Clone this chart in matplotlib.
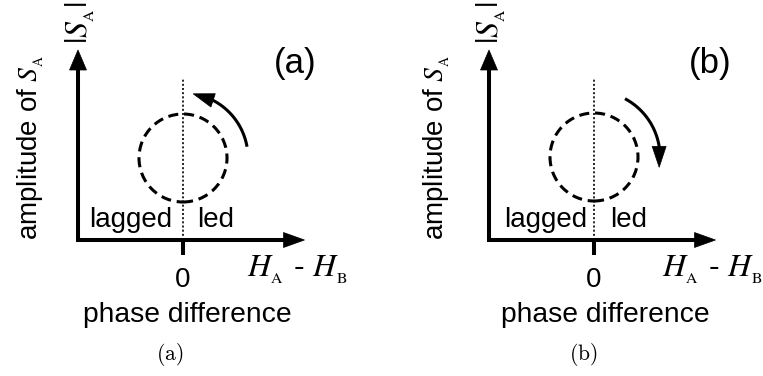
import numpy as np
import matplotlib
matplotlib.use("Agg")
import matplotlib.pyplot as plt
from matplotlib.patches import Circle, Polygon

plt.rcParams['font.family'] = ['Liberation Sans', 'DejaVu Sans']
plt.rcParams['mathtext.fontset'] = 'stix'

# two panels: counter-clockwise (a) and clockwise (b) orbit
panels = ['a', 'b']
directions = [1, -1]            # +1 ccw, -1 cw
arc_start = [10, 62]            # degrees, around the orbit centre
arc_end = [81, -9]
orbit_y = [82, 83]              # orbit centre height above the phase axis
orbit_r = 44
arc_r = [65, 66]
region_labels = ['lagged', 'led']
zero_label = '0'
x_name = r'$H_{{}_\mathrm{A}}$ - $H_{{}_\mathrm{B}}$'
x_desc = 'phase difference'
y_desc = r'amplitude of $S_{{}_\mathrm{A}}$'
y_name = r'$|S_{{}_\mathrm{A}}|$'

# layout, one entry per panel (pixels relative to the zero tick / phase axis)
panel_left = [0, 382]
zero_px = [183, 212]
lab_dx = [0, 4]
ylab_x = [-145, -150]
phrase_x = [4.5, 11.5]

W, H = 763, 376
fig = plt.figure(figsize=(W / 100, H / 100), dpi=100)

AX_LW = 2.9
yaxis_x = -105
y_top = 190
x_right = 121.5
HEAD_L = 20


def arrow_head(ax, tip, d, length, width):
    d = np.asarray(d, float)
    d = d / np.hypot(*d)
    n = np.array([-d[1], d[0]])
    tip = np.asarray(tip, float)
    base = tip - length * d
    pts = [tip, base + n * width / 2, base - n * width / 2]
    ax.add_patch(Polygon(pts, closed=True, fc='black', ec='black', lw=0.5))


for i, p in enumerate(panels):
    ax = fig.add_axes([panel_left[i] / W, 0, 381 / W, 1])
    ax.set_xlim(-zero_px[i], 381 - zero_px[i])
    ax.set_ylim(-136, 240)
    ax.axis('off')

    # axes frame drawn as an L with arrow tips
    ax.plot([yaxis_x, yaxis_x, x_right - HEAD_L + 2],
            [y_top - HEAD_L + 2, 0, 0], color='black', lw=AX_LW,
            solid_joinstyle='miter', solid_capstyle='butt')
    arrow_head(ax, (yaxis_x, y_top), (0, 1), HEAD_L, 17)
    arrow_head(ax, (x_right, 0), (1, 0), HEAD_L + 1, 15)

    # zero tick and dotted zero line
    ax.plot([0, 0], [0, -15], color='black', lw=AX_LW, solid_capstyle='butt')
    ax.plot([0, 0], [0, 161], color='black', lw=1.2, ls=(0, (1.2, 1.3)))

    # orbit
    ax.add_patch(Circle((0, orbit_y[i]), orbit_r, fill=False, ec='black',
                        lw=2.2, ls=(0, (3.3, 1.9))))

    # rotation arrow
    r = arc_r[i]
    s = directions[i]
    t0 = np.radians(arc_start[i])
    t1 = np.radians(arc_end[i])
    head_len = 21
    t_line = t1 - s * (head_len - 3) / r
    th = np.linspace(t0, t_line, 60)
    ax.plot(r * np.cos(th), orbit_y[i] + r * np.sin(th), color='black',
            lw=2.2, solid_capstyle='butt')
    tip = (r * np.cos(t1), orbit_y[i] + r * np.sin(t1))
    tb = t1 - s * head_len / r / 2
    tangent = (-s * np.sin(tb), s * np.cos(tb))
    arrow_head(ax, tip, tangent, head_len, 14)

    dx = lab_dx[i]
    ax.text(112 + dx, 177, f'({p})', fontsize=25, ha='center', va='center')
    ax.text(-11 + dx, 13, region_labels[0], fontsize=20, ha='right',
            va='baseline')
    ax.text(14 + dx / 2, 13, region_labels[1], fontsize=20, ha='left',
            va='baseline')
    ax.text(0, -47, zero_label, fontsize=20, ha='center', va='baseline')
    ax.text(phrase_x[i], -82, x_desc, fontsize=20.3, ha='center',
            va='baseline')
    ax.text(64 + dx, -37, x_name, fontsize=23, ha='left', va='baseline')
    ax.text(ylab_x[i], 0, y_desc, fontsize=20, rotation=90,
            rotation_mode='anchor', ha='left', va='baseline')
    ax.text(-95, 196, y_name, fontsize=23, rotation=90,
            rotation_mode='anchor', ha='left', va='baseline')
    ax.text(-13 + dx / 2, -114, rf'$\mathrm{{({p})}}$', fontsize=15.5,
            ha='center', va='center', math_fontfamily='cm')

fig.savefig('out.png', dpi=100)
